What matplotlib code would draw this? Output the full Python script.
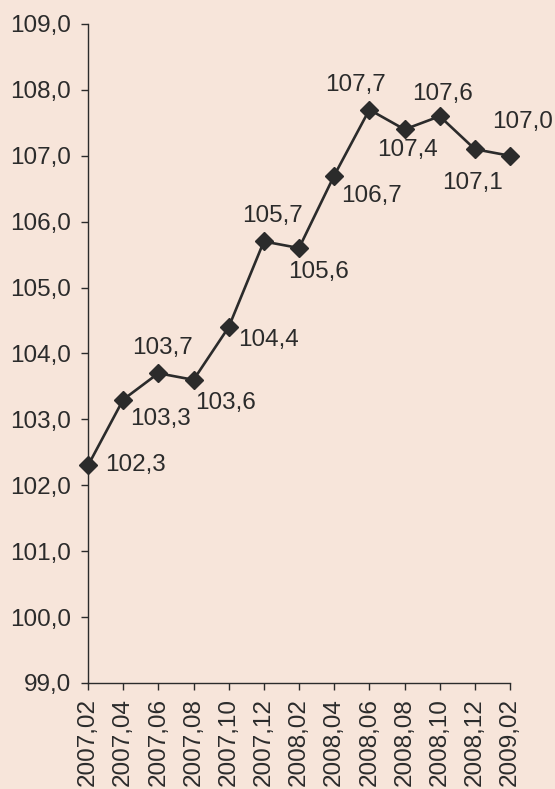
import matplotlib.pyplot as plt

# Monthly index values, February 2007 - February 2009
months = ['2007,02', '2007,04', '2007,06', '2007,08', '2007,10', '2007,12',
          '2008,02', '2008,04', '2008,06', '2008,08', '2008,10', '2008,12',
          '2009,02']
values = [102.3, 103.3, 103.7, 103.6, 104.4, 105.7, 105.6, 106.7, 107.7,
          107.4, 107.6, 107.1, 107.0]
y_ticks = [99, 100, 101, 102, 103, 104, 105, 106, 107, 108, 109]

# where each value label sits relative to its point (points)
label_offsets = [(34, 0), (27, -14), (3, 18), (23, -17), (29, -9), (6, 18),
                 (14, -17), (27, -15), (-10, 18), (2, -15), (2, 16), (-2, -24),
                 (9, 24)]

bg = '#f7e5da'
ink = '#2b2b2b'

plt.rcParams['font.family'] = ['Liberation Sans', 'DejaVu Sans']

fig = plt.figure(figsize=(5.55, 7.89), dpi=100, facecolor=bg)
ax = fig.add_axes([0.1586, 0.1344, 0.9190 - 0.1586, 0.9696 - 0.1344])
ax.set_facecolor(bg)

x = list(range(len(values)))
ax.plot(x, values, color=ink, lw=1.9, marker='D', ms=9, mfc=ink, mec=ink,
        clip_on=False, zorder=3)

for xi, v, (dx, dy) in zip(x, values, label_offsets):
    ax.annotate(f'{v:.1f}'.replace('.', ','), (xi, v), xytext=(dx, dy),
                textcoords='offset points', ha='center', va='center',
                fontsize=17.5, color=ink)

ax.set_xlim(0, len(values) - 1)
ax.set_ylim(99, 109)
ax.set_xticks(x)
ax.set_xticklabels(months, rotation=90, fontsize=17.5, color=ink)
ax.set_yticks(y_ticks)
ax.set_yticklabels([f'{t:.1f}'.replace('.', ',') for t in y_ticks],
                   fontsize=17.5, color=ink)
ax.tick_params(direction='out', length=5, width=1, color=ink)
ax.tick_params(axis='y', pad=7)
ax.tick_params(axis='x', pad=6)

for side in ('top', 'right'):
    ax.spines[side].set_visible(False)
for side in ('left', 'bottom'):
    ax.spines[side].set_color(ink)
    ax.spines[side].set_linewidth(1)

fig.savefig('out.png', dpi=100, facecolor=bg)
